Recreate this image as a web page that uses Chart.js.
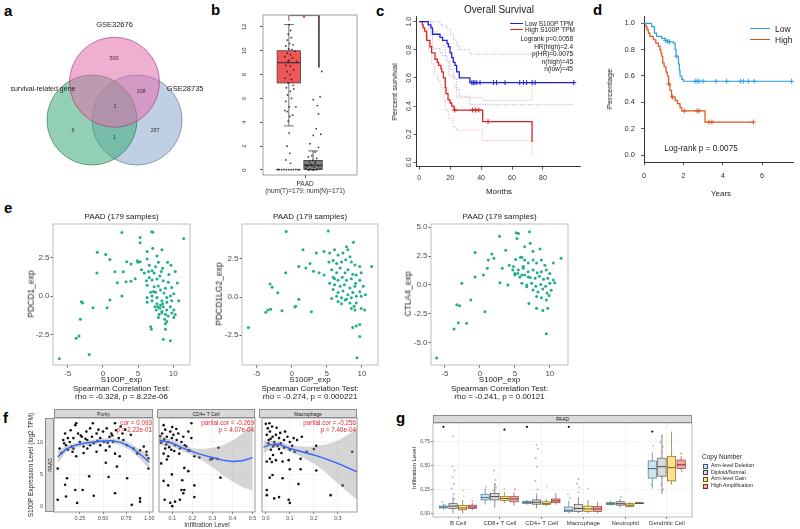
<!DOCTYPE html>
<html lang="en">
<head>
<meta charset="UTF-8">
<title>S100P multi-panel figure</title>
<script src="https://cdn.jsdelivr.net/npm/chart.js@4.4.1/dist/chart.umd.min.js"></script>
<style>
  body { margin: 0; background: #fff; }
  #fig { position: relative; width: 800px; height: 529px; overflow: hidden; font-family: 'Liberation Sans', Arial, sans-serif; }
  #fig canvas { position: absolute; }
  .t { position: absolute; white-space: nowrap; line-height: 1; color: #222; }
  .strip { position: absolute; box-sizing: border-box; background: #d9d9d9; border: 0.6px solid #8c8c8c; color: #1a1a1a; font-size: 5px; display: flex; align-items: center; justify-content: center; white-space: nowrap; }
  .key { position: absolute; height: 0; }
  .sq { position: absolute; width: 5px; height: 5px; box-sizing: border-box; }
</style>
</head>
<body>
<div id="fig"></div>
<script>
const FONT = "'Liberation Sans', Arial, sans-serif";
Chart.defaults.font.family = FONT;
Chart.defaults.animation = false;

// ---------- data: a (Venn) ----------
const vennSets = ['GSE32676', 'survival-related gene', 'GSE28735'];
const vennCounts = [500, 108, 1, 6, 1, 287]; // pink only, pink&blue, all, green only, green&blue, blue only

// ---------- data: b (expression box plot) ----------
const bTumorStats = [3.7, 7.3, 9.0, 10.0, 12.2];   // lo, q1, median, q3, hi
const bNormalStats = [0, 0.05, 0.4, 0.8, 1.6];
const bTumorPts = [[0.01,12.2],[0.07,11.7],[-0.03,11.4],[0.11,11.1],[-0.07,10.9],[0.04,10.6],[0.18,10.5],[-0.13,10.4],[-0.01,10.15],[0.26,9.95],[-0.07,9.8],[0.07,9.66],[-0.17,9.5],[0.16,9.4],[-0.03,9.1],[0.33,9.1],[-0.13,8.8],[0.07,8.7],[0.21,8.4],[-0.07,8.25],[0.04,8.0],[-0.16,7.7],[0.11,7.6],[-0.03,7.3],[0.18,7.1],[-0.1,6.9],[0.07,6.6],[-0.06,6.3],[0.11,6.0],[-0.13,5.75],[0.01,5.3],[-0.07,4.9],[0.04,4.5],[-0.03,4.1],[0.01,3.1],[-0.07,2.0],[0.04,1.4],[-0.13,0.84],[0.07,0.56],[0.3,5.3],[-0.17,5.0],[0.16,4.6],[0.21,6.8],[0.01,9.2],[0.13,10.1],[-0.5,0.03],[-0.4,0.03],[-0.3,0.02],[-0.2,0.04],[-0.1,0.02],[0,0.03],[0.1,0.02],[0.2,0.03],[0.3,0.04],[0.4,0.02],[0.45,0.03],[-0.45,0.05]];
const bNormalPts = [[0.37,8.26],[0.3,6.15],[0.18,5.4],[0.01,5.9],[0.23,4.7],[0.13,3.45],[0.33,3.0],[0.01,2.9],[-0.13,2.2],[0.23,1.9],[0.09,1.5],[-0.05,1.2],[-0.2,1.1],[0.16,0.97],[-0.01,0.8],[-0.16,0.7],[0.09,0.56],[-0.27,0.42],[-0.05,0.36],[0.23,0.34],[0.04,0.22],[-0.3,0.14],[-0.13,0.08],[0.16,0.08],[0.01,0.0],[-0.2,0.0],[0.3,0.14],[-0.1,0.5],[0.11,0.73],[-0.24,0.3]];
const bYTicks = [0, 2, 4, 6, 8, 10, 12];

// ---------- data: c (GEPIA overall survival, months) ----------
const cLow = [[0,1],[5.8,0.978],[7.5,0.956],[8.6,0.911],[13.4,0.889],[15.1,0.867],[18,0.844],[18.8,0.822],[19.9,0.778],[21,0.744],[22,0.711],[23.1,0.689],[24.2,0.644],[25.9,0.6],[32.8,0.567],[100,0.567]];
const cHigh = [[0,1],[2,0.978],[2.5,0.956],[3.5,0.933],[4.8,0.867],[6.9,0.822],[8,0.778],[10.2,0.733],[11.7,0.711],[12.5,0.689],[14,0.667],[14.5,0.644],[15.6,0.6],[16.8,0.533],[17.3,0.489],[18.6,0.444],[19.9,0.422],[21,0.4],[22.5,0.372],[41,0.29],[73,0.145]];
const cLowUp = [[0,1],[8.6,1],[13.4,0.98],[15.1,0.97],[18,0.95],[20,0.91],[22,0.87],[24.2,0.83],[25.9,0.8],[32.8,0.77],[100,0.77]];
const cLowDn = [[0,1],[5.8,0.94],[7.5,0.9],[8.6,0.81],[13.4,0.78],[15.1,0.76],[18,0.72],[20,0.66],[22,0.6],[24.2,0.52],[25.9,0.47],[32.8,0.41],[100,0.41]];
const cHighUp = [[0,1],[5,1],[8,0.93],[12,0.87],[15,0.83],[17,0.72],[19,0.62],[22.5,0.54],[24,0.46],[41,0.44],[73,0.6]];
const cHighDn = [[0,1],[2,0.94],[4,0.87],[6,0.8],[8,0.7],[10,0.62],[12,0.58],[14,0.53],[16,0.44],[17,0.37],[19,0.31],[22,0.25],[24,0.23],[41,0.155],[73,0.05]];
const cLowCens = [34,35,36,37.2,39.3,48,50,55.5,65,67.4,69.5,73,75,100];
const cHighCens = [[23,0.372],[34.5,0.372],[36.5,0.372],[38.5,0.372],[44.5,0.29]];
const cXTicks = [0, 20, 40, 60, 80];
const cYTicks = [0, 0.2, 0.4, 0.6, 0.8, 1.0];

// ---------- data: d (survival, years) ----------
const dLow = [[0,1],[0.39,0.975],[0.53,0.925],[0.64,0.9],[0.9,0.885],[1.07,0.87],[1.19,0.86],[1.49,0.85],[1.58,0.8],[1.63,0.75],[1.75,0.69],[1.8,0.64],[1.83,0.6],[1.92,0.575],[2.0,0.56],[7.5,0.56]];
const dHigh = [[0,1],[0.1,0.975],[0.15,0.95],[0.22,0.925],[0.3,0.9],[0.47,0.875],[0.6,0.85],[0.73,0.825],[0.81,0.8],[0.86,0.775],[0.9,0.75],[0.95,0.7],[1.02,0.67],[1.12,0.63],[1.18,0.6],[1.25,0.54],[1.32,0.49],[1.4,0.44],[1.58,0.415],[1.7,0.39],[1.83,0.36],[1.92,0.335],[3.1,0.25],[5.56,0.25]];
const dLowCens = [[1.1,0.87],[1.22,0.86],[1.3,0.86],[1.65,0.75],[2.6,0.56],[2.7,0.56],[2.8,0.56],[3.0,0.56],[3.65,0.56],[4.2,0.56],[4.9,0.56],[5.05,0.56],[5.3,0.56],[5.6,0.56],[7.5,0.56]];
const dHighCens = [[1.25,0.54],[1.45,0.44],[2.05,0.335],[2.7,0.335],[2.8,0.335],[3.3,0.25],[3.45,0.25],[5.56,0.25]];
const dXTicks = [0, 2, 4, 6];
const dYTicks = [0, 0.2, 0.4, 0.6, 0.8, 1.0];

// ---------- data: e (Spearman scatter) ----------
const ePDCD1 = [[-6.2,-4.07],[-1.95,-3.8],[-3.8,-2.75],[-3.4,-2.6],[-3.2,-1.5],[-3.05,-0.37],[-2.9,-0.45],[-1.4,-0.76],[0.6,-0.76],[1.0,-0.26],[2.7,0],[-0.8,2.84],[0.4,2.7],[1.0,2.38],[-0.85,1.5],[1.7,1.58],[2.05,0.86],[2.9,1.58],[3.3,0.93],[4.0,0.96],[4.6,1.12],[2.7,4.13],[5.3,3.46],[5.3,3.8],[6.95,4.18],[7.1,4.15],[11.5,3.74],[3.4,2.23],[4.0,2.08],[4.9,2.3],[5.0,2.2],[5.3,2.23],[6.3,2.9],[7.1,3.1],[7.7,2.6],[7.9,2.2],[8.4,3.0],[6.3,2.4],[5.5,1.7],[5.9,1.5],[6.5,1.6],[7.0,1.65],[7.3,1.5],[6.6,1.2],[7.0,1.05],[7.7,1.1],[8.1,1.3],[8.5,1.8],[9.2,2.2],[9.7,2.0],[10.3,1.6],[10.6,0.85],[6.2,1.0],[6.3,0.7],[7.3,0.6],[7.9,0.65],[8.6,1.0],[9.3,0.9],[9.8,0.55],[6.8,0.25],[7.5,0.25],[8.2,0.4],[8.9,0.5],[10.1,0.15],[6.3,-0.1],[7.0,0.0],[7.7,-0.1],[9.1,-0.1],[9.6,0.0],[10.8,-0.3],[6.3,-0.4],[7.0,-0.3],[7.7,-0.5],[8.4,-0.3],[9.1,-0.4],[9.8,-0.3],[7.4,-0.7],[8.1,-0.8],[8.6,-0.7],[8.4,-1.0],[9.1,-0.9],[9.6,-0.7],[10.1,-0.9],[10.3,-1.2],[9.8,-1.1],[8.9,-1.2],[10.1,-1.4],[9.1,-1.65],[8.9,-1.8],[6.8,-2.0],[6.9,-2.15],[8.9,-2.15],[8.6,-2.8],[9.6,-2.9],[7.8,-0.7],[8.2,-0.6],[8.4,-1.1],[8.8,-1.5],[9.3,-1.3],[7.6,-0.9],[8.0,-1.2],[7.2,0.3],[8.7,0.2],[6.6,2.0],[7.5,1.9],[8.3,1.6],[9.4,1.4],[7.9,-1.4],[8.5,-0.5]];
const ePDCD1LG2 = [[-6.2,-2.0],[-3.1,0.86],[-2.8,0.64],[-2.0,0.28],[-3.7,-1.0],[-3.4,-0.86],[-3.0,-0.8],[-1.4,-0.9],[-0.86,1.6],[-0.8,4.3],[5.2,4.34],[1.6,3.1],[3.5,2.9],[4.6,3.0],[8.8,3.6],[11.4,2.0],[1.0,2.0],[2.0,1.9],[2.6,2.2],[3.1,1.7],[3.9,1.6],[4.6,1.45],[0.57,-0.6],[1.0,-0.15],[2.8,-0.97],[0.43,-0.65],[5.4,2.9],[6.1,3.1],[6.6,2.76],[7.3,2.9],[7.8,3.3],[8.0,3.1],[8.3,2.65],[5.3,2.3],[5.9,2.4],[6.4,2.2],[7.1,2.3],[7.7,2.45],[8.5,2.3],[9.0,2.1],[9.7,2.0],[5.7,1.8],[6.4,1.6],[6.9,1.9],[7.6,1.6],[8.0,1.8],[8.7,1.5],[9.2,1.45],[9.9,1.6],[5.9,1.3],[6.6,1.1],[7.2,1.3],[7.8,1.1],[8.5,1.2],[9.1,0.9],[9.7,1.1],[5.4,0.9],[6.1,0.8],[6.9,0.7],[7.5,0.8],[8.3,0.6],[9.0,0.7],[10.2,0.7],[9.7,0.35],[5.9,0.5],[6.6,0.3],[7.3,0.4],[8.0,0.15],[8.7,0.3],[9.2,0.05],[7.1,-0.05],[7.8,-0.15],[8.5,-0.05],[9.9,0.05],[10.5,0.15],[5.7,-0.1],[6.4,0.05],[8.3,-0.4],[8.9,-0.6],[9.2,-0.4],[8.5,-0.75],[9.0,-0.85],[9.9,-0.75],[10.4,-0.85],[6.6,-0.3],[7.1,-0.45],[9.2,-1.9],[8.7,-2.0],[9.7,-1.8],[9.7,-2.6],[9.3,-4.0],[7.6,-0.2],[6.1,1.2]];
const eCTLA4 = [[-6.2,-6.3],[-3.7,-3.8],[-3.1,-3.25],[-1.9,-3.3],[-3.3,-1.7],[-2.9,-1.8],[-1.3,-1.3],[-2.6,0.15],[-0.7,0.7],[0.7,-2.3],[-0.7,2.8],[0.5,0.86],[1.05,1.44],[1.2,2.15],[1.7,2.67],[2.0,2.3],[2.86,0.2],[2.8,4.2],[3.2,1.44],[3.7,3.0],[4.0,0.0],[4.2,1.7],[4.7,1.3],[5.0,1.0],[5.2,4.5],[5.3,4.0],[5.4,1.0],[6.0,0.86],[6.2,1.6],[6.0,2.4],[6.4,3.3],[6.7,-0.15],[6.9,0.7],[5.5,4.45],[7.1,4.6],[7.2,3.6],[7.6,2.9],[8.6,3.1],[5.1,2.2],[5.8,2.4],[6.4,2.15],[6.9,1.9],[7.6,2.15],[8.1,1.9],[8.8,2.15],[9.3,1.7],[10.5,1.9],[11.6,2.3],[4.8,1.6],[5.5,1.3],[6.2,1.45],[6.9,1.15],[7.6,1.3],[8.2,1.06],[8.8,1.15],[9.5,1.3],[10.0,1.0],[5.0,0.86],[5.7,0.7],[6.4,0.86],[7.2,0.65],[7.9,0.58],[8.5,0.75],[9.1,0.5],[9.7,0.58],[10.5,0.43],[10.7,0.2],[6.0,0.15],[6.7,0.0],[7.4,0.15],[8.0,-0.1],[8.7,0.05],[9.4,-0.1],[10.0,0.15],[7.6,-0.43],[8.3,-0.6],[9.0,-0.35],[9.6,-0.7],[10.2,-0.45],[8.1,-1.0],[8.8,-1.1],[9.5,-1.3],[9.9,-0.9],[7.0,-1.6],[8.1,-2.0],[9.0,-2.2],[9.7,-2.0],[9.5,-4.2]];
const eXTicks = [-5, 0, 5, 10];

// ---------- data: f (TIMER) ----------
const fPurity = [[0.01,5.9],[0.01,1.1],[0.09,3.4],[0.1,1.6],[0.11,4.4],[0.22,0.6],[0.2,2.6],[0.28,2.6],[0.35,4.7],[0.4,1.7],[0.56,4.6],[0.53,6.8],[0.65,6.2],[0.63,2.1],[0.76,4.4],[0.81,0.3],[0.9,1.3],[0.9,0.8],[0.99,5.9],[0.97,8.0],[0.97,8.5],[0.99,7.5],[0.07,10.3],[0.1,9.5],[0.12,10.6],[0.14,10.0],[0.16,9.3],[0.18,10.6],[0.2,12.6],[0.21,12.9],[0.23,11.3],[0.25,10.0],[0.27,10.8],[0.29,9.3],[0.32,11.6],[0.33,10.3],[0.36,12.1],[0.38,10.8],[0.4,9.8],[0.43,11.3],[0.45,11.9],[0.47,10.6],[0.5,11.6],[0.51,10.0],[0.54,12.1],[0.57,10.8],[0.59,11.3],[0.61,10.0],[0.64,11.8],[0.67,10.6],[0.69,12.4],[0.71,11.3],[0.74,11.9],[0.76,9.5],[0.8,11.1],[0.83,9.0],[0.87,8.2],[0.9,8.7],[0.94,9.3],[0.12,8.8],[0.17,8.5],[0.05,8.3],[0.03,9.0],[0.29,8.3],[0.43,8.5],[0.53,8.7],[0.63,8.2],[0.33,9.0],[0.21,7.8],[0.68,7.8],[0.36,9.5],[0.47,9.5],[0.57,9.3],[0.09,11.3],[0.39,12.9],[0.63,12.9],[0.15,11.8],[0.26,11.0],[0.31,10.5],[0.44,10.2],[0.55,9.9],[0.6,11.0],[0.72,10.3],[0.08,9.8],[0.18,9.0]];
const fCD4 = [[0.057,12.6],[0.05,11.3],[0.065,11.9],[0.073,10.8],[0.09,11.6],[0.08,10.0],[0.098,10.6],[0.106,11.1],[0.114,9.5],[0.122,10.3],[0.13,11.3],[0.138,9.0],[0.146,10.0],[0.155,10.8],[0.162,9.5],[0.18,8.7],[0.195,12.9],[0.057,8.2],[0.065,9.0],[0.08,7.8],[0.045,6.7],[0.073,7.3],[0.062,1.1],[0.09,0.6],[0.1,0.1],[0.114,0.8],[0.138,1.1],[0.057,4.0],[0.08,3.3],[0.146,2.6],[0.155,2.1],[0.21,3.3],[0.098,5.0],[0.18,11.6],[0.195,10.6],[0.17,9.3],[0.185,8.7],[0.21,7.8],[0.235,7.6],[0.29,7.3],[0.33,9.1],[0.325,7.4],[0.16,6.0],[0.18,5.5],[0.21,1.5],[0.34,4.5],[0.15,4.1],[0.16,2.6],[0.3,7.4],[0.06,10.4],[0.07,9.6],[0.085,9.2],[0.11,8.6],[0.12,12.0],[0.04,10.9],[0.045,9.9],[0.1,12.3],[0.135,8.2],[0.095,8.8]];
const fMac = [[0.0,12.8],[0.008,12.1],[0.017,11.6],[0.026,12.4],[0.004,11.1],[0.028,10.8],[0.012,10.3],[0.042,11.1],[0.035,10.0],[0.055,10.6],[0.062,9.8],[0.049,9.4],[0.076,10.3],[0.09,10.8],[0.1,10.0],[0.116,10.6],[0.13,10.3],[0.15,10.8],[0.021,8.8],[0.03,9.3],[0.055,8.9],[0.076,9.1],[0.1,8.8],[0.12,8.5],[0.017,7.4],[0.004,7.0],[0.025,6.9],[0.042,7.2],[0.07,7.0],[0.095,7.2],[0.145,7.4],[0.2,8.9],[0.21,9.4],[0.17,8.5],[0.36,8.5],[0.016,4.5],[0.028,4.9],[0.07,4.4],[0.1,5.8],[0.145,5.8],[0.136,3.5],[0.21,5.6],[0.32,3.3],[0.004,2.6],[0.004,1.8],[0.035,1.3],[0.055,1.5],[0.095,1.1],[0.1,0.6],[0.27,1.8],[0.01,9.8],[0.02,10.5],[0.038,9.6],[0.06,11.4],[0.08,11.6],[0.015,12.9],[0.045,12.2],[0.11,9.4],[0.065,8.3],[0.03,8.0]];
// loess fits: x, fit, lower, upper
const fPurityFit = { x: [0.01,0.1,0.2,0.3,0.4,0.5,0.6,0.7,0.8,0.9,1.0], y: [7.7,8.9,9.5,9.8,10.0,10.15,10.2,9.9,9.2,8.1,6.9], lo: [6.7,8.4,9.1,9.4,9.6,9.75,9.8,9.45,8.65,7.4,5.7], hi: [8.7,9.4,9.9,10.2,10.4,10.55,10.6,10.35,9.75,8.8,8.1] };
const fCD4Fit = { x: [0.035,0.1,0.15,0.2,0.25,0.3,0.35,0.4,0.45,0.5], y: [10.3,9.8,9.1,8.5,8.0,7.6,7.2,7.0,7.1,7.6], lo: [9.5,9.3,8.6,8.0,7.1,6.1,4.9,3.9,3.0,2.5], hi: [11.1,10.3,9.6,9.0,8.9,9.1,9.5,10.2,11.3,12.8] };
const fMacFit = { x: [-0.01,0.02,0.05,0.1,0.15,0.2,0.25,0.3,0.35,0.38], y: [9.2,9.6,9.7,9.0,8.5,8.0,7.4,6.7,5.9,5.4], lo: [8.2,9.0,9.2,8.5,7.7,6.7,5.3,3.6,2.0,1.0], hi: [10.2,10.2,10.2,9.5,9.3,9.3,9.6,10.2,11.3,12.2] };
const fYTicks = [0, 5, 10];

// ---------- data: g (copy number vs infiltration) ----------
const gCats = ['B Cell', 'CD8+ T Cell', 'CD4+ T Cell', 'Macrophage', 'Neutrophil', 'Dendritic Cell'];
const gGroups = ['Arm-level Deletion', 'Diploid/Normal', 'Arm-level Gain', 'High Amplification'];
// per category: lo, q1, median, q3, hi
const gDel = [[0.04,0.055,0.065,0.075,0.1],[0.09,0.14,0.165,0.2,0.26],[0.09,0.1,0.115,0.125,0.14],[0.0,0.015,0.03,0.065,0.13],[0.08,0.09,0.1,0.11,0.13],[0.26,0.37,0.47,0.55,0.64]];
const gNorm = [[0.0,0.05,0.075,0.1,0.17],[0.06,0.14,0.175,0.21,0.32],[0.05,0.095,0.115,0.14,0.19],[0.0,0.02,0.05,0.09,0.17],[0.06,0.085,0.1,0.12,0.15],[0.2,0.39,0.49,0.58,0.82]];
const gGain = [[0.0,0.035,0.055,0.08,0.14],[0.11,0.135,0.155,0.175,0.22],[0.07,0.09,0.1,0.12,0.15],[0.0,0.02,0.045,0.075,0.14],[0.06,0.07,0.085,0.1,0.12],[0.3,0.34,0.48,0.6,0.86]];
const gAmp = [[0.03,0.05,0.065,0.085,0.11],[0.08,0.12,0.15,0.175,0.22],[0.09,0.11,0.13,0.15,0.19],[0.0,0.02,0.045,0.07,0.12],[0.095,0.1,0.105,0.11,0.115],[0.45,0.47,0.51,0.56,0.6]];
// jitter points: [category, jitter, value]
const gDelPts = [[0,-0.03,0.12],[0,0.04,0.09],[1,0.02,0.28],[3,-0.02,0.2],[3,0.03,0.16],[5,0.02,0.71],[5,-0.03,0.3]];
const gNormPts = [[0,0,0.81],[0,-0.02,0.49],[0,0.03,0.45],[0,-0.01,0.38],[0,0.02,0.31],[0,-0.03,0.26],[0,0.01,0.2],[0,0.03,0.15],[1,-0.02,0.45],[1,0.02,0.35],[1,0,0.3],[1,0.03,0.27],[1,-0.03,0.24],[2,0,0.72],[2,0.03,0.68],[2,-0.02,0.58],[2,0.01,0.49],[2,-0.03,0.34],[2,0.02,0.25],[2,0,0.2],[3,0,0.36],[3,-0.03,0.31],[3,0.02,0.27],[3,0,0.22],[4,0.02,0.17],[5,0,0.82],[5,-0.03,0.75],[5,0.02,0.7],[5,0,0.65],[5,-0.02,0.3],[5,0.03,0.25]];
const gGainPts = [[0,0,0.24],[0,0.03,0.18],[1,0,0.26],[2,0.02,0.28],[3,0,0.26],[5,0,0.65]];
const gAmpPts = [[0,0,0.13],[1,0.02,0.25],[2,0,0.2],[5,0,0.63],[5,0.02,0.44]];
const gOutliers = [[0,0,0.91],[1,2,0.88],[2,0,0.91],[3,0,0.91],[5,0,0.86]]; // [category, group, value]
const gYTicks = [0, 0.25, 0.5, 0.75];

// ================= helpers =================
const fig = document.getElementById('fig');

function txt(s, x, y, size, o = {}) {
  const d = document.createElement('div');
  d.className = 't';
  d.textContent = s;
  d.style.left = x + 'px';
  d.style.top = y + 'px';
  d.style.fontSize = size + 'px';
  if (o.color) d.style.color = o.color;
  if (o.bold) d.style.fontWeight = 'bold';
  const tx = o.align === 'l' ? '0' : o.align === 'r' ? '-100%' : '-50%';
  d.style.transform = `translate(${tx},-50%)` + (o.rot ? ` rotate(${o.rot}deg)` : '');
  fig.appendChild(d);
}

function strip(x0, y0, x1, y1, s, vertical) {
  const d = document.createElement('div');
  d.className = 'strip';
  Object.assign(d.style, { left: x0 + 'px', top: y0 + 'px', width: (x1 - x0) + 'px', height: (y1 - y0) + 'px' });
  const sp = document.createElement('span');
  sp.textContent = s;
  if (vertical) sp.style.transform = 'rotate(-90deg)';
  d.appendChild(sp);
  fig.appendChild(d);
}

function keyLine(x1, x2, y, color, w) {
  const d = document.createElement('div');
  d.className = 'key';
  Object.assign(d.style, { left: x1 + 'px', top: (y - w / 2) + 'px', width: (x2 - x1) + 'px', borderTop: `${w}px solid ${color}` });
  fig.appendChild(d);
}

function axis(min, max, ticks, o = {}) {
  return {
    type: 'linear', min, max, display: o.display !== false,
    afterBuildTicks: s => { s.ticks = ticks.map(v => ({ value: v })); },
    ticks: {
      display: !o.hideLabels, autoSkip: false,
      font: { size: o.size || 7, family: FONT }, color: o.color || '#333',
      padding: o.pad ?? 2, minRotation: o.rot || 0, maxRotation: o.rot || 0,
      crossAlign: o.cross || 'near',
      callback: o.labels ? ((v, i) => o.labels[i]) : (o.fmt || (v => v))
    },
    grid: {
      drawOnChartArea: !!o.grid, color: o.gridColor || '#ebebeb', lineWidth: 0.6,
      drawTicks: (o.tl || 0) > 0, tickLength: o.tl || 0, tickColor: o.tickColor || '#333', tickWidth: 0.8
    },
    border: { display: !!o.border, color: o.borderColor || '#000', width: o.bw || 1 }
  };
}

// box = canvas [left, top, width, height]; area = plot [x0, y0, x1, y1], page px
function plot(box, area, cfg) {
  const [L, T, W, H] = box;
  const [x0, y0, x1, y1] = area;
  const c = document.createElement('canvas');
  c.width = W; c.height = H;
  Object.assign(c.style, { left: L + 'px', top: T + 'px', width: W + 'px', height: H + 'px' });
  fig.appendChild(c);
  const yw = x0 - L, xh = T + H - y1;
  const o = cfg.options;
  o.responsive = false;
  o.devicePixelRatio = 1;
  o.layout = { padding: { left: 0, top: y0 - T, right: L + W - x1, bottom: 0 } };
  o.plugins = Object.assign({ legend: { display: false }, tooltip: { enabled: false } }, o.plugins || {});
  o.scales.x.afterFit = s => { s.height = xh; s.paddingLeft = 0; s.paddingRight = 0; };
  o.scales.y.afterFit = s => { s.width = yw; s.paddingTop = 0; s.paddingBottom = 0; };
  return new Chart(c, cfg);
}

const xy = arr => arr.map(([x, y]) => ({ x, y }));
const dots = (data, color, r) => ({ type: 'line', data, showLine: false, pointRadius: r, pointBackgroundColor: color, pointBorderWidth: 0 });
const path = (data, color, w, extra = {}) => Object.assign({ type: 'line', data, borderColor: color, borderWidth: w, pointRadius: 0, fill: false }, extra);

const frame = (color, lw = 0.8) => ({
  id: 'frame',
  afterDatasetsDraw(ch) {
    const a = ch.chartArea, c = ch.ctx;
    c.save(); c.strokeStyle = color; c.lineWidth = lw;
    c.strokeRect(a.left, a.top, a.right - a.left, a.bottom - a.top);
    c.restore();
  }
});

// box-and-whisker layer drawn through the chart scales
const boxLayer = boxes => ({
  id: 'boxes',
  beforeDatasetsDraw(ch) {
    const xs = ch.scales.x, ys = ch.scales.y, c = ch.ctx;
    const py = v => ys.getPixelForValue(v);
    c.save();
    boxes.forEach(b => {
      const [lo, q1, med, q3, hi] = b.stats;
      const xl = xs.getPixelForValue(b.x - b.w / 2), xr = xs.getPixelForValue(b.x + b.w / 2), xm = xs.getPixelForValue(b.x);
      c.strokeStyle = b.stroke; c.lineWidth = b.lw || 0.7;
      c.beginPath();
      c.moveTo(xm, py(hi)); c.lineTo(xm, py(q3));
      c.moveTo(xm, py(q1)); c.lineTo(xm, py(lo));
      if (b.cap) {
        const cl = xs.getPixelForValue(b.x - b.cap / 2), cr = xs.getPixelForValue(b.x + b.cap / 2);
        c.moveTo(cl, py(hi)); c.lineTo(cr, py(hi));
        c.moveTo(cl, py(lo)); c.lineTo(cr, py(lo));
      }
      c.stroke();
      c.fillStyle = b.fill;
      c.fillRect(xl, py(q3), xr - xl, py(q1) - py(q3));
      c.strokeRect(xl, py(q3), xr - xl, py(q1) - py(q3));
      c.lineWidth = b.mlw || 1.1;
      c.beginPath(); c.moveTo(xl, py(med)); c.lineTo(xr, py(med)); c.stroke();
    });
    c.restore();
  }
});

const textLayer = items => ({
  id: 'texts',
  afterDatasetsDraw(ch) {
    const xs = ch.scales.x, ys = ch.scales.y, c = ch.ctx;
    c.save(); c.textAlign = 'center'; c.textBaseline = 'middle';
    items.forEach(t => {
      c.font = `${t.size}px ${FONT}`; c.fillStyle = t.color || '#222';
      c.fillText(t.text, xs.getPixelForValue(t.x), ys.getPixelForValue(t.y));
    });
    c.restore();
  }
});

// ================= panel letters =================
[['a', 4, 10], ['b', 211, 9], ['c', 376, 10], ['d', 593, 9], ['e', 4, 207], ['f', 3, 417], ['g', 396, 417]]
  .forEach(([s, x, y]) => txt(s, x, y, 15, { bold: true, align: 'l', color: '#000' }));

// ================= a: Venn =================
{
  const centers = [[0, 0.84], [-0.5, 0], [0.5, 0]];
  const fills = ['rgba(226,110,170,0.55)', 'rgba(60,170,120,0.55)', 'rgba(140,170,205,0.55)'];
  const strokes = ['rgba(160,60,115,0.8)', 'rgba(40,115,80,0.8)', 'rgba(85,115,155,0.8)'];
  const countPos = [[-0.01, 1.36], [0.59, 0.64], [0.01, 0.29], [-0.92, -0.24], [0, -0.38], [0.9, -0.24]];
  const namePos = [[0, 2.11], [-1.59, 0.69], [1.57, 0.69]];
  const unitR = ctx => { const s = ctx.chart.scales.x; return s.getPixelForValue(1) - s.getPixelForValue(0); };
  const items = vennCounts.map((n, i) => ({ text: String(n), x: countPos[i][0], y: countPos[i][1], size: 5.5, color: '#333' }))
    .concat(vennSets.map((s, i) => ({ text: s, x: namePos[i][0], y: namePos[i][1], size: i === 1 ? 7 : 7.5, color: '#222' })));
  plot([0, 0, 215, 205], [0, 0, 215, 205], {
    type: 'line',
    data: { datasets: vennSets.map((s, i) => ({ type: 'line', label: s, data: [{ x: centers[i][0], y: centers[i][1] }], showLine: false, pointRadius: unitR, pointBackgroundColor: fills[i], pointBorderColor: strokes[i], pointBorderWidth: 0.8 })) },
    options: { clip: false, scales: { x: axis(-2.544, 2.233, [], { display: false }), y: axis(-1.889, 2.667, [], { display: false }) } },
    plugins: [textLayer(items)]
  });
}

// ================= b: box plot =================
{
  const tX = 1.1, nX = 2.13;
  plot([205, 0, 160, 200], [263, 15, 357, 175], {
    type: 'line',
    data: { datasets: [
      path(xy([[tX, 12.5], [tX, 12.95], [2.38, 12.95], [2.38, 8.6]]), '#222', 0.7),
      dots(bTumorPts.map(([d, v]) => ({ x: tX + d, y: v })), 'rgba(30,30,30,0.85)', 0.9),
      dots(bNormalPts.map(([d, v]) => ({ x: nX + d, y: v })), 'rgba(30,30,30,0.85)', 0.9)
    ] },
    options: { scales: {
      x: axis(0, 4, [1.79], { labels: [['PAAD', '(num(T)=179; num(N)=171)']], size: 6.5, tl: 3, pad: 2 }),
      y: axis(-0.42, 13.0, bYTicks, { size: 6, rot: 90, cross: 'center', tl: 3, pad: 12 })
    } },
    plugins: [boxLayer([
      { x: tX, w: 1.0, cap: 0.42, stats: bTumorStats, fill: 'rgba(240,72,72,0.92)', stroke: '#333' },
      { x: nX, w: 0.78, cap: 0.42, stats: bNormalStats, fill: 'rgba(115,115,115,0.9)', stroke: '#222' }
    ]), frame('#888', 0.8)]
  });
  txt('*', 304, 18, 9, { color: '#e02020' });
}

// ================= c: GEPIA survival =================
{
  const cens = (arr, color) => ({ type: 'line', data: arr, showLine: false, pointStyle: 'cross', pointRadius: 2.5, pointBorderColor: color, pointBorderWidth: 1 });
  const dotted = { stepped: true, borderDash: [1.2, 1.5] };
  plot([385, 0, 200, 200], [416.5, 16.1, 580, 166.7], {
    type: 'line',
    data: { datasets: [
      cens(cLowCens.map(t => ({ x: t, y: 0.567 })), '#2222cc'),
      cens(xy(cHighCens), '#dd2222'),
      path(xy(cLow), '#2222cc', 1.3, { stepped: true }),
      path(xy(cHigh), '#dd2222', 1.3, { stepped: true }),
      path(xy(cLowUp), 'rgba(120,120,230,0.6)', 1, dotted),
      path(xy(cLowDn), 'rgba(120,120,230,0.6)', 1, dotted),
      path(xy(cHighUp), 'rgba(240,120,120,0.6)', 1, dotted),
      path(xy(cHighDn), 'rgba(240,120,120,0.6)', 1, dotted)
    ] },
    options: { scales: {
      x: axis(-1.8, 104, cXTicks, { size: 7, tl: 3, pad: 4, border: true, bw: 0.8 }),
      y: axis(-0.031, 1.04, cYTicks, { size: 7, rot: 90, cross: 'center', tl: 3, pad: 0, border: true, bw: 0.8, fmt: v => v.toFixed(1) })
    } }
  });
  txt('Overall Survival', 499, 10, 10);
  keyLine(510, 523, 24, '#2222cc', 1.3); txt('Low S100P TPM', 525, 24, 6.5, { align: 'l' });
  keyLine(510, 523, 29.5, '#dd2222', 1.3); txt('High S100P TPM', 525, 29.5, 6.5, { align: 'l' });
  [['Logrank p=0.0058', 39], ['HR(high)=2.4', 46.5], ['p(HR)=0.0075', 54], ['n(high)=45', 61.5], ['n(low)=45', 69]]
    .forEach(([s, y]) => txt(s, 573, y, 6.5, { align: 'r' }));
  txt('Percent survival', 395, 92, 8, { rot: -90 });
  txt('Months', 499, 192, 8);
}

// ================= d: survival (years) =================
{
  const LOW = '#2e9fdf', HIGH = '#d9541e';
  const cens = (arr, color) => ({ type: 'line', data: xy(arr), showLine: false, pointStyle: 'cross', pointRadius: 2.5, pointBorderColor: color, pointBorderWidth: 0.9 });
  plot([595, 0, 205, 200], [644, 16.7, 793, 162.3], {
    type: 'line',
    data: { datasets: [
      cens(dLowCens, LOW), cens(dHighCens, HIGH),
      path(xy(dLow), LOW, 1.2, { stepped: true }),
      path(xy(dHigh), HIGH, 1.2, { stepped: true })
    ] },
    options: { clip: false, scales: {
      x: axis(0, 7.57, dXTicks, { size: 7.5, tl: 3, pad: 6, border: true, bw: 0.8 }),
      y: axis(-0.055, 1.05, dYTicks, { size: 7.5, tl: 3, pad: 6, border: true, bw: 0.8, fmt: v => v.toFixed(1) })
    } }
  });
  keyLine(750, 770, 29, LOW, 1.3); txt('Low', 775, 29, 8.5, { align: 'l' });
  keyLine(750, 770, 40, HIGH, 1.3); txt('High', 775, 40, 8.5, { align: 'l' });
  txt('Log-rank p = 0.0075', 701, 149, 8.2);
  txt('Percentage', 610, 89, 8, { rot: -90 });
  txt('Years', 721, 194, 8);
}

// ================= e: scatter plots =================
{
  const GREEN = '#22ad86';
  const panels = [
    { pts: ePDCD1, box: [10, 220, 185, 160], area: [53, 224, 190, 365], xr: [-7.1, 12.4], yr: [-4.48, 4.68], yt: [-2.5, 0, 2.5], name: 'PDCD1_exp', ty: 31, rho: 'rho = -0.328, p = 8.22e-06' },
    { pts: ePDCD1LG2, box: [199, 220, 185, 160], area: [242, 224, 378, 365], xr: [-7.1, 12.3], yr: [-4.47, 4.8], yt: [-2.5, 0, 2.5], name: 'PDCD1LG2_exp', ty: 219, rho: 'rho = -0.274, p = 0.000221' },
    { pts: eCTLA4, box: [388, 220, 185, 160], area: [431, 224, 568, 365], xr: [-7.0, 12.6], yr: [-6.9, 5.26], yt: [-5, -2.5, 0, 2.5, 5], name: 'CTLA4_exp', ty: 408, rho: 'rho = -0.241, p = 0.00121' }
  ];
  panels.forEach(p => {
    plot(p.box, p.area, {
      type: 'line',
      data: { datasets: [dots(xy(p.pts), GREEN, 1.5)] },
      options: { scales: {
        x: axis(p.xr[0], p.xr[1], eXTicks, { size: 8, tl: 2.5, pad: 1, color: '#4d4d4d' }),
        y: axis(p.yr[0], p.yr[1], p.yt, { size: 8, tl: 2.5, pad: 1, color: '#4d4d4d', fmt: v => v.toFixed(1) })
      } },
      plugins: [frame('#bdbdbd', 1)]
    });
    const cx = (p.area[0] + p.area[2]) / 2;
    txt('PAAD (179 samples)', cx, 217, 8);
    txt(p.name, p.ty, 294, 8.5, { rot: -90 });
    txt('S100P_exp', cx, 380, 8);
    txt('Spearman Correlation Test:', cx, 388.5, 8);
    txt(p.rho, cx, 397, 8);
  });
}

// ================= f: TIMER facets =================
{
  const facets = [
    { pts: fPurity, fit: fPurityFit, box: [20, 405, 140, 124], area: [54, 418, 153, 512], xr: [-0.03, 1.04], xt: [0.25, 0.5, 0.75, 1.0], dec: 2, name: 'Purity', note: ['cor = 0.093', 'p = 2.22e-01'] },
    { pts: fCD4, fit: fCD4Fit, box: [155, 405, 105, 124], area: [157, 418, 255, 512], xr: [0.034, 0.512], xt: [0.1, 0.2, 0.3, 0.4, 0.5], dec: 1, name: 'CD4+ T Cell', note: ['partial.cor = -0.269', 'p = 4.07e-04'] },
    { pts: fMac, fit: fMacFit, box: [258, 405, 105, 124], area: [259, 418, 357, 512], xr: [-0.016, 0.38], xt: [0, 0.1, 0.2, 0.3], dec: 1, name: 'Macrophage', note: ['partial.cor = -0.256', 'p = 7.40e-04'] }
  ];
  facets.forEach((f, i) => {
    const F = f.fit;
    plot(f.box, f.area, {
      type: 'line',
      data: { datasets: [
        path(F.x.map((x, k) => ({ x, y: F.y[k] })), '#3366ff', 1.4),
        path(F.x.map((x, k) => ({ x, y: F.lo[k] })), 'rgba(0,0,0,0)', 0),
        path(F.x.map((x, k) => ({ x, y: F.hi[k] })), 'rgba(0,0,0,0)', 0, { fill: '-1', backgroundColor: 'rgba(150,150,150,0.4)' }),
        dots(xy(f.pts), '#111', 1.3)
      ] },
      options: { scales: {
        x: axis(f.xr[0], f.xr[1], f.xt, { size: 5.5, tl: 2, pad: 1, grid: true, color: '#4d4d4d', tickColor: '#666', fmt: v => v.toFixed(f.dec) }),
        y: axis(-0.8, 13.7, fYTicks, { size: 5.5, pad: 11, grid: true, color: '#4d4d4d', hideLabels: i > 0 })
      } },
      plugins: [frame('#7f7f7f', 0.8)]
    });
    strip(f.area[0], 409, f.area[2], 418, f.name);
    txt(f.note[0], f.area[2] - 1, 423, 6.3, { align: 'r', color: '#e8262b' });
    txt(f.note[1], f.area[2] - 1, 430, 6.3, { align: 'r', color: '#e8262b' });
  });
  strip(45, 418, 54, 512, 'PAAD', true);
  txt('S100P Expression Level (log2 TPM)', 31, 465, 6.5, { rot: -90 });
  txt('Infiltration Level', 207, 524.5, 6.5, { color: '#333' });
}

// ================= g: copy number boxes =================
{
  const offs = [-0.35, -0.12, 0.11, 0.34];
  const fills = ['rgba(166,206,227,0.55)', 'rgba(190,190,190,0.55)', 'rgba(255,205,70,0.6)', 'rgba(240,110,100,0.6)'];
  const strokes = ['#2c5f6e', '#3a3a3a', '#6b5300', '#7a2a22'];
  const ptCols = ['rgba(110,170,200,0.7)', 'rgba(140,140,140,0.7)', 'rgba(230,180,40,0.7)', 'rgba(220,90,80,0.7)'];
  const stats = [gDel, gNorm, gGain, gAmp];
  const jit = [gDelPts, gNormPts, gGainPts, gAmpPts];
  const boxes = [];
  stats.forEach((arr, gi) => arr.forEach((s, ci) => boxes.push({ x: ci + offs[gi], w: 0.2, stats: s, fill: fills[gi], stroke: strokes[gi], lw: 0.6, mlw: 0.9 })));
  const sets = jit.map((arr, gi) => dots(arr.map(([ci, d, v]) => ({ x: ci + offs[gi] + d, y: v })), ptCols[gi], 0.9));
  sets.unshift(dots(gOutliers.map(([ci, gi, v]) => ({ x: ci + offs[gi], y: v })), '#111', 1.1));
  plot([398, 410, 402, 119], [433, 423, 692, 517], {
    type: 'line',
    data: { datasets: sets },
    options: { scales: {
      x: axis(-0.6, 5.6, [0, 1, 2, 3, 4, 5], { labels: gCats, size: 6, tl: 2, pad: 1, grid: true, color: '#333', tickColor: '#666' }),
      y: axis(-0.04, 0.95, gYTicks, { size: 5, tl: 2, pad: 1, grid: true, color: '#4d4d4d', tickColor: '#666', fmt: v => v.toFixed(2) })
    } },
    plugins: [boxLayer(boxes), frame('#9a9a9a', 0.7)]
  });
  strip(433, 415, 692, 423, 'PAAD');
  txt('Infiltration Level', 414, 468, 6, { rot: -90 });
  txt('Copy Number', 702, 457, 6.5, { align: 'l' });
  gGroups.forEach((s, i) => {
    const y = 466 + i * 6.7;
    const q = document.createElement('div');
    q.className = 'sq';
    Object.assign(q.style, { left: '703px', top: (y - 2.5) + 'px', background: fills[i], border: `0.7px solid ${strokes[i]}` });
    fig.appendChild(q);
    txt(s, 711, y, 5.3, { align: 'l' });
  });
}
</script>
</body>
</html>
